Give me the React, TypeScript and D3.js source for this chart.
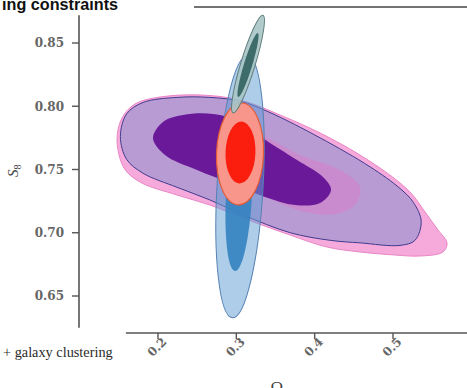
import React from "react";
import * as d3 from "d3";

// ---- data ----
const OMEGA_TICKS = [0.2, 0.3, 0.4, 0.5];
const S8_TICKS = [0.65, 0.7, 0.75, 0.8, 0.85];
const OMEGA_AXIS_EXTENT = [0.159, 0.5945];
const S8_AXIS_EXTENT = [0.625, 0.872];

// contour outlines as [Ωm, S8]
const PINK_OUTER: [number, number][] = [
  [0.1477, 0.7733], [0.154, 0.7907], [0.1706, 0.8018], [0.2026, 0.8073], [0.2536, 0.8089],
  [0.3047, 0.8049], [0.3558, 0.7931], [0.4196, 0.7749], [0.4834, 0.7512], [0.5217, 0.7322],
  [0.5409, 0.7164], [0.5575, 0.7022], [0.569, 0.6919], [0.5638, 0.6848], [0.5345, 0.6816],
  [0.5026, 0.6824], [0.4579, 0.6848], [0.4158, 0.6887], [0.3685, 0.6982], [0.3085, 0.7117],
  [0.2664, 0.7219], [0.2243, 0.7298], [0.177, 0.7401], [0.1566, 0.7512],
];
const PINK_INNER: [number, number][] = [
  [0.2217, 0.7733], [0.2476, 0.7876], [0.2855, 0.7891], [0.3328, 0.7773], [0.3813, 0.7615],
  [0.4323, 0.7496], [0.4579, 0.7362], [0.4515, 0.7219], [0.426, 0.7148], [0.3877, 0.7164],
  [0.3404, 0.7275], [0.2919, 0.7417], [0.2536, 0.7536], [0.2285, 0.763],
];
const PURPLE_OUTER: [number, number][] = [
  [0.152, 0.776], [0.16, 0.794], [0.181, 0.803], [0.224, 0.807], [0.266, 0.807],
  [0.305, 0.804], [0.343, 0.795], [0.407, 0.775], [0.471, 0.752], [0.509, 0.735],
  [0.526, 0.724], [0.536, 0.709], [0.528, 0.694], [0.509, 0.69], [0.458, 0.692],
  [0.42, 0.694], [0.369, 0.7], [0.309, 0.714], [0.266, 0.726], [0.224, 0.736],
  [0.181, 0.747], [0.16, 0.758],
];
const PURPLE_INNER: [number, number][] = [
  [0.1936, 0.7749], [0.2064, 0.7876], [0.2319, 0.7931], [0.2702, 0.7939], [0.3111, 0.7868],
  [0.334, 0.7749], [0.3775, 0.7575], [0.4106, 0.7441], [0.4209, 0.7338], [0.4068, 0.7235],
  [0.3749, 0.7219], [0.3366, 0.7283], [0.2919, 0.7393], [0.2498, 0.7496], [0.2089, 0.7615],
];
// ellipses: [Ωm centre, S8 centre, half-width (Ωm), half-height (S8), tilt in degrees]
const BLUE_OUTER = [0.3047, 0.7362, 0.0294, 0.1036, 3.3];
const BLUE_INNER = [0.3034, 0.7298, 0.0166, 0.0601, 3];
const RED_OUTER = [0.3047, 0.7623, 0.03, 0.0403, 2];
const RED_INNER = [0.3053, 0.7634, 0.0191, 0.0245, 2];
const GREEN_OUTER = [0.3149, 0.8334, 0.0092, 0.0403, 17];
const GREEN_INNER = [0.3149, 0.8326, 0.0053, 0.0265, 17];

const W = 467;
const H = 388;

export default function App() {
  const x = d3.scaleLinear().domain([0.2, 0.5]).range([158, 393]);
  const y = d3.scaleLinear().domain([0.65, 0.85]).range([296, 43]);
  const yAxisX = 79;
  const xAxisY = 333;

  const shape = d3
    .line<[number, number]>()
    .x((d) => x(d[0]))
    .y((d) => y(d[1]))
    .curve(d3.curveCatmullRomClosed.alpha(0.5));

  const ell = (e: number[], props: any) => {
    const cx = x(e[0]);
    const cy = y(e[1]);
    const rx = x(e[0] + e[2]) - cx;
    const ry = cy - y(e[1] + e[3]);
    return (
      <ellipse cx={cx} cy={cy} rx={rx} ry={ry} transform={`rotate(${e[4]} ${cx} ${cy})`} {...props} />
    );
  };

  const serif = "'DejaVu Serif', serif";
  const times = "'Liberation Serif', 'Times New Roman', serif";

  return (
    <svg
      width={W}
      height={H}
      style={{ position: "absolute", left: 0, top: 0, background: "#fff" }}
    >
      <rect x={0} y={0} width={W} height={H} fill="#fff" />
      {/* title fragment and top rule */}
      <text x={2} y={10} fontFamily="'Liberation Sans', Arial, sans-serif" fontWeight="bold" fontSize={16.2} fill="#111">
        ing constraints
      </text>
      <line x1={194} x2={W} y1={7} y2={7} stroke="#444" strokeWidth={1.6} />

      {/* contours */}
      <path d={shape(PINK_OUTER) || ""} fill="#f5aadb" stroke="#ea86c6" strokeWidth={1} />
      <path d={shape(PURPLE_OUTER) || ""} fill="#b79bd4" fillOpacity={0.97} stroke="#3f3a8e" strokeWidth={1} />
      <path d={shape(PINK_INNER) || ""} fill="#d77ec8" fillOpacity={0.55} />
      <path d={shape(PURPLE_INNER) || ""} fill="#6a1a98" />

      {ell(BLUE_OUTER, { fill: "#62a0d4", fillOpacity: 0.52, stroke: "#5581b3", strokeWidth: 1 })}
      {ell(BLUE_INNER, { fill: "#3383c0", fillOpacity: 0.9 })}
      {ell(RED_OUTER, { fill: "#f8968b", stroke: "#e35a35", strokeWidth: 1.2 })}
      {ell(RED_INNER, { fill: "#fb1d0e" })}
      {ell(GREEN_OUTER, { fill: "#a9c5c6", fillOpacity: 0.9, stroke: "#5f7d7b", strokeWidth: 1 })}
      {ell(GREEN_INNER, { fill: "#3e6c6b" })}

      {/* y axis */}
      <line x1={yAxisX} x2={yAxisX} y1={y(S8_AXIS_EXTENT[1])} y2={y(S8_AXIS_EXTENT[0])} stroke="#555" strokeWidth={1.6} />
      {S8_TICKS.map((t) => (
        <g key={t}>
          <line x1={yAxisX - 7} x2={yAxisX} y1={y(t)} y2={y(t)} stroke="#555" strokeWidth={1.4} />
          <text x={64} y={y(t) + 4.4} textAnchor="end" fontFamily={serif} fontWeight="bold" fontSize={12} fill="#666">
            {t.toFixed(2)}
          </text>
        </g>
      ))}
      <text transform={`translate(18,177) rotate(-90)`} fontFamily={times} fontSize={15} fill="#444">
        <tspan fontStyle="italic">S</tspan>
        <tspan fontSize={10} dy={3}>8</tspan>
      </text>

      {/* x axis */}
      <line x1={x(OMEGA_AXIS_EXTENT[0])} x2={x(OMEGA_AXIS_EXTENT[1])} y1={xAxisY} y2={xAxisY} stroke="#555" strokeWidth={1.6} />
      {OMEGA_TICKS.map((t) => (
        <g key={t}>
          <line x1={x(t)} x2={x(t)} y1={xAxisY} y2={xAxisY + 6} stroke="#555" strokeWidth={1.4} />
          <text
            transform={`translate(${x(t) - 1},${347}) rotate(-45)`}
            textAnchor="middle"
            dy="0.35em"
            fontFamily={serif}
            fontWeight="bold"
            fontSize={12}
            fill="#666"
          >
            {t.toFixed(1)}
          </text>
        </g>
      ))}
      <text x={281} y={393} textAnchor="middle" fontFamily={times} fontSize={17} fill="#444">
        Ω<tspan fontSize={11} dy={3}>m</tspan>
      </text>

      <text x={3} y={357} fontFamily={times} fontSize={14.3} fill="#2a2a2a">
        + galaxy clustering
      </text>
    </svg>
  );
}
